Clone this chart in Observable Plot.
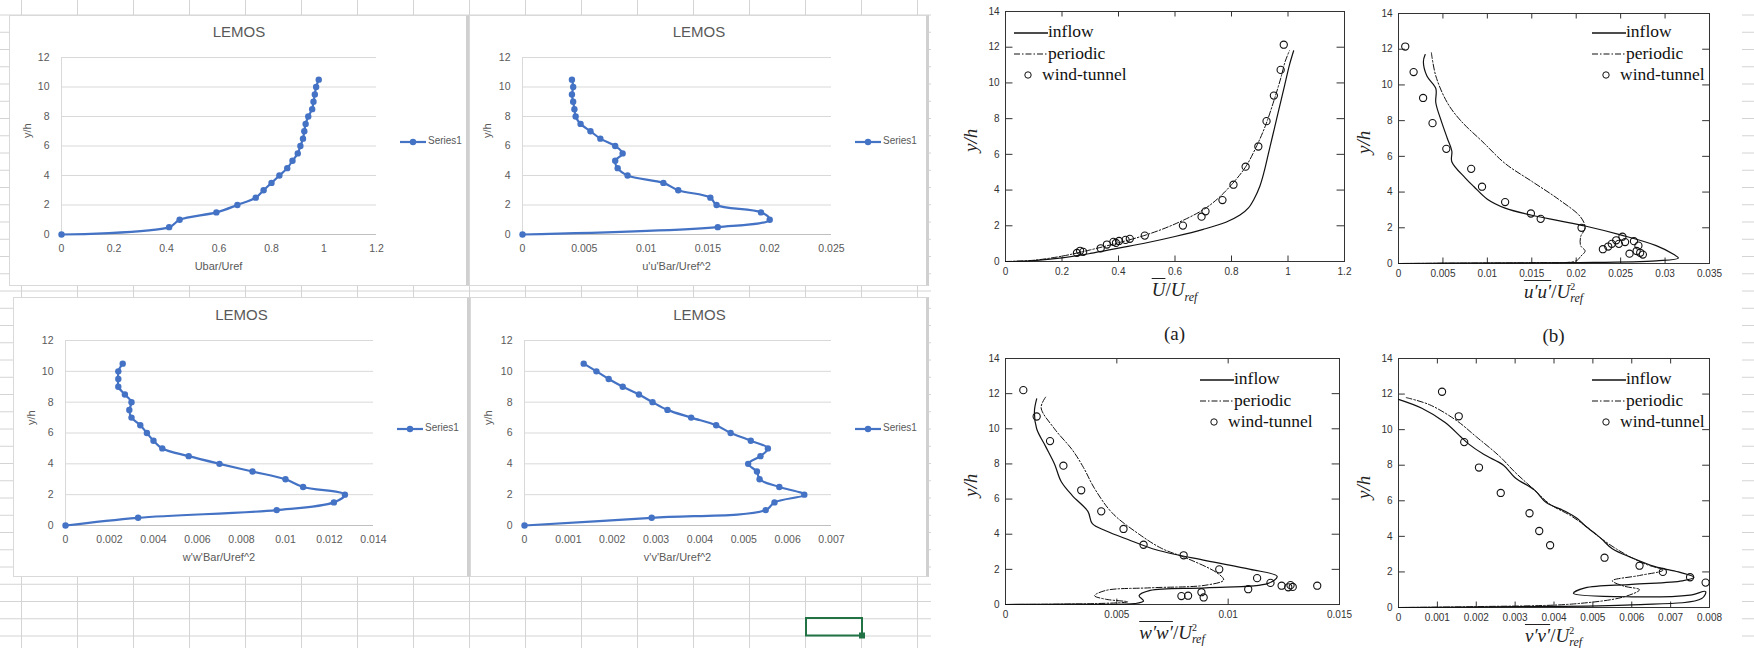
<!DOCTYPE html>
<html><head><meta charset="utf-8">
<script src="https://cdn.jsdelivr.net/npm/d3@7"></script>
<script src="https://cdn.jsdelivr.net/npm/@observablehq/plot@0.6"></script>
<style>
body{margin:0;width:1754px;height:648px;overflow:hidden;background:#fff;position:relative;font-family:"Liberation Sans",Arial,sans-serif}
.abs{position:absolute}
.box{position:absolute;background:#fff;border:1px solid #d9d9d9;box-sizing:border-box}
.xt{position:absolute;color:#595959;font-size:11px;white-space:nowrap;transform:translateX(-50%)}
.ttl{position:absolute;color:#595959;font-size:15px;transform:translateX(-50%)}
.ser{position:absolute;color:#595959;font-size:10px;font-family:"Liberation Sans Narrow","Liberation Sans",sans-serif}
.m{position:absolute;font-family:"Liberation Serif","DejaVu Serif",serif;font-size:19px;color:#222;white-space:nowrap;transform:translateX(-50%)}
.yl{position:absolute;font-family:"Liberation Serif","DejaVu Serif",serif;font-size:19px;color:#222;white-space:nowrap;transform:rotate(-90deg);transform-origin:left top;font-style:italic}
.lg{position:absolute;font-family:"Liberation Serif","DejaVu Serif",serif;font-size:17.5px;color:#111;line-height:21.5px;white-space:nowrap}
</style></head><body>
<div id="root"></div>
<script>
// ---- Excel (LEMOS) data ----
var lemosY = [0,0.5,1,1.5,2,2.5,3,3.5,4,4.5,5,5.5,6,6.5,7,7.5,8,8.5,9,9.5,10,10.5]
var lemosU = [0,0.41,0.45,0.59,0.67,0.74,0.77,0.8,0.83,0.86,0.88,0.9,0.91,0.92,0.925,0.93,0.94,0.955,0.96,0.965,0.97,0.98]
var lemosUU = [0,0.0158,0.020,0.0193,0.0157,0.0152,0.0126,0.0114,0.0085,0.0077,0.0075,0.0081,0.0075,0.0063,0.0055,0.0047,0.0043,0.0042,0.0041,0.0040,0.0041,0.0040]
var lemosWW = [0,0.0033,0.0096,0.0122,0.0127,0.0108,0.0100,0.0085,0.0070,0.0056,0.0044,0.0040,0.0037,0.0034,0.0030,0.0029,0.0030,0.0027,0.0024,0.0024,0.0024,0.0026]
var lemosVV = [0,0.0029,0.0055,0.0057,0.00638,0.00581,0.00536,0.0053,0.0051,0.00538,0.00555,0.00516,0.0047,0.00437,0.0038,0.00326,0.00292,0.00261,0.00224,0.00192,0.00164,0.00135]

// ---- paper figure data: [x, y/h] ----
var aInflow = [[0,0],[0.1,0.05],[0.2,0.2],[0.3,0.45],[0.4,0.75],[0.5,1.05],[0.6,1.4],[0.7,1.8],[0.78,2.2],[0.83,2.6],[0.86,3.0],[0.88,3.5],[0.9,4.2],[0.915,5],[0.93,6],[0.945,7],[0.96,8],[0.975,9],[0.99,10],[1.005,11],[1.02,11.8]]
var aPeriodic = [[0,0],[0.1,0.07],[0.2,0.3],[0.3,0.65],[0.4,1.05],[0.5,1.5],[0.6,2.1],[0.7,2.9],[0.75,3.5],[0.8,4.3],[0.85,5.3],[0.89,6.5],[0.92,7.6],[0.95,9],[0.975,10.3],[0.99,11.2],[1.005,11.8]]
var aTunnel = [[0.985,12.14],[0.974,10.73],[0.95,9.29],[0.924,7.86],[0.895,6.44],[0.85,5.31],[0.807,4.3],[0.768,3.44],[0.708,2.81],[0.694,2.51],[0.628,2.01],[0.493,1.45],[0.44,1.27],[0.425,1.21],[0.402,1.15],[0.391,1.04],[0.382,1.1],[0.359,0.95],[0.337,0.74],[0.275,0.54],[0.264,0.6],[0.253,0.48]]

var bInflow = [[0.0030,11.7],[0.0028,11.3],[0.0032,10.5],[0.0042,9.8],[0.0042,9.0],[0.0048,8.0],[0.0055,7],[0.006,6.3],[0.006,5.7],[0.0075,4.8],[0.0085,4.3],[0.01,3.6],[0.012,3.1],[0.015,2.7],[0.018,2.4],[0.021,2.1],[0.025,1.6],[0.029,1.0],[0.031,0.5],[0.0315,0.3],[0.029,0.15],[0.02,0.05],[0.005,0.02],[0,0]]
var bPeriodic = [[0.0037,11.8],[0.0042,10.5],[0.0055,9],[0.007,8],[0.0095,6.8],[0.012,5.6],[0.015,4.6],[0.018,3.6],[0.0205,2.6],[0.021,2.0],[0.0205,1.5],[0.0205,1.0],[0.021,0.7],[0.0205,0.4],[0.02,0.15],[0.015,0.05],[0.008,0.02],[0,0]]
var bTunnel = [[0.00076,12.15],[0.0017,10.72],[0.00277,9.27],[0.00383,7.86],[0.00538,6.42],[0.00818,5.3],[0.0094,4.3],[0.012,3.44],[0.0149,2.8],[0.016,2.5],[0.0206,2.0],[0.0252,1.5],[0.0245,1.3],[0.024,1.1],[0.0236,0.95],[0.023,0.8],[0.0248,1.1],[0.0255,1.2],[0.0265,1.25],[0.027,1.0],[0.0272,0.6],[0.0275,0.5],[0.026,0.55],[0.0268,0.7]]

var cInflow = [[0.0014,11.7],[0.0013,11],[0.0014,10],[0.0018,9],[0.0022,8],[0.0025,7],[0.003,6.2],[0.0037,5.3],[0.0039,4.6],[0.0045,4.2],[0.0055,3.7],[0.0068,3.1],[0.009,2.5],[0.011,2.0],[0.0122,1.6],[0.0118,1.2],[0.009,0.95],[0.0065,0.8],[0.006,0.5],[0.0062,0.2],[0.0058,0.05],[0.003,0.02],[0,0]]
var cPeriodic = [[0.0018,11.8],[0.0016,11.2],[0.0022,10],[0.003,8.8],[0.0035,7.8],[0.004,6.6],[0.0048,5.2],[0.006,4],[0.007,3.2],[0.0082,2.6],[0.0095,1.8],[0.0098,1.4],[0.009,1.1],[0.0065,0.95],[0.0045,0.8],[0.004,0.5],[0.0045,0.3],[0.0055,0.15],[0.004,0.05],[0,0]]
var cTunnel = [[0.0008,12.2],[0.0014,10.7],[0.002,9.3],[0.0026,7.9],[0.0034,6.5],[0.0043,5.3],[0.0053,4.3],[0.0062,3.4],[0.008,2.8],[0.0096,2.0],[0.0113,1.5],[0.0079,0.48],[0.0082,0.5],[0.0088,0.7],[0.0089,0.4],[0.0109,0.87],[0.0119,1.23],[0.0124,1.07],[0.0127,0.98],[0.0128,1.1],[0.0129,1.0],[0.014,1.07]]

var dInflow = [[0,11.7],[0.0006,11.2],[0.0012,10.4],[0.0016,9.6],[0.0018,9.2],[0.0022,8.6],[0.0027,8],[0.003,7.3],[0.0035,6.6],[0.0038,5.9],[0.0043,5.4],[0.0046,5.0],[0.0048,4.6],[0.0052,3.9],[0.0055,3.3],[0.006,2.8],[0.0066,2.3],[0.0072,2.0],[0.0076,1.7],[0.0073,1.5],[0.006,1.3],[0.0048,1.1],[0.0045,0.8],[0.006,0.6],[0.0075,0.7],[0.0079,0.9],[0.0078,0.5],[0.006,0.15],[0.003,0.05],[0,0]]
var dPeriodic = [[0.0002,11.8],[0.0008,11.4],[0.0015,10.5],[0.002,9.6],[0.0026,8.5],[0.003,7.6],[0.0035,6.6],[0.0039,5.8],[0.0044,5.2],[0.0048,4.6],[0.0052,3.9],[0.0056,3.3],[0.006,2.8],[0.0064,2.4],[0.0068,2.1],[0.0062,1.8],[0.0055,1.5],[0.0058,1.2],[0.0062,1.0],[0.0058,0.6],[0.0045,0.2],[0.002,0.05],[0,0]]
var dTunnel = [[0.00112,12.13],[0.00155,10.75],[0.00169,9.3],[0.00207,7.87],[0.00263,6.44],[0.00337,5.3],[0.00362,4.3],[0.0039,3.5],[0.0053,2.8],[0.0062,2.35],[0.0068,2.0],[0.0075,1.7],[0.0079,1.4]]

var root = document.getElementById("root")
function add(html) { root.insertAdjacentHTML("beforeend", html) }
function place(el, left, top) {
    el.style.position = "absolute"; el.style.left = left + "px"; el.style.top = top + "px"
    root.append(el)
}

// spreadsheet grid behind everything
var grid = Plot.plot({
    width: 1754, height: 648, margin: 0,
    x: {domain: [0, 1754], axis: null}, y: {domain: [0, 648], axis: null, reverse: true},
    marks: [
        Plot.ruleX(d3.range(21, 1754, 56), {stroke: "#d4d4d4"}),
        Plot.ruleY(d3.range(14.5, 648, 17.25), {stroke: "#d4d4d4"}),
        Plot.rect([[931, 1742]], {x1: d => d[0], x2: d => d[1], y1: 0, y2: 648, fill: "white"}),
        Plot.rect([[806, 862]], {x1: d => d[0], x2: d => d[1], y1: 618, y2: 635.5, stroke: "#217346", strokeWidth: 2, fill: "none"}),
        Plot.rect([[859, 865]], {x1: d => d[0], x2: d => d[1], y1: 632.5, y2: 638.5, fill: "#217346"})
    ]
})
place(grid, 0, 0)

function excel(c) {
    add(`<div class="box" style="left:${c.bx}px;top:${c.by}px;width:${c.bw}px;height:${c.bh}px;border-right:3px solid #d0d0d0"></div>`)
    let data = lemosY.map((y, i) => ({x: c.xs[i], y}))
    let plot = Plot.plot({
        width: c.bw, height: c.bh,
        marginLeft: c.fx0 - c.bx, marginRight: c.bx + c.bw - c.fx1,
        marginTop: c.fy1 - c.by, marginBottom: c.by + c.bh - c.fy0,
        style: {fontFamily: "Liberation Sans, Arial, sans-serif", fontSize: "10.5px", color: "#595959", background: "none"},
        x: {domain: [0, c.xmax]},
        y: {domain: [0, 12]},
        marks: [
            Plot.ruleY(d3.range(2, 13, 2), {stroke: "#d9d9d9"}),
            Plot.ruleY([0], {stroke: "#bfbfbf"}),
            Plot.ruleX([0], {stroke: "#d9d9d9"}),
            Plot.axisY({ticks: d3.range(0, 13, 2), tickSize: 0, tickPadding: 12, label: null}),
            Plot.axisX({ticks: c.ticks, tickSize: 0, tickPadding: 10, label: null, tickFormat: d => +d.toFixed(4) + ""}),
            Plot.line(data, {x: "x", y: "y", stroke: "#4472C4", strokeWidth: 2.2, curve: "catmull-rom"}),
            Plot.dot(data, {x: "x", y: "y", r: 3.2, fill: "#4472C4"})
        ]
    })
    place(plot, c.bx, c.by)
    let cx = (c.fx0 + c.fx1) / 2
    add(`<div class="ttl" style="left:${c.bx + c.bw / 2}px;top:${c.fy1 - 34}px">LEMOS</div>`)
    add(`<div class="xt" style="left:${cx}px;top:${c.fy0 + 26}px">${c.xlabel}</div>`)
    add(`<div class="xt" style="left:${c.bx + 12}px;top:${(c.fy0 + c.fy1) / 2 - 8}px;transform:rotate(-90deg);transform-origin:left top;font-size:11px">y/h</div>`)
    let ly = (c.fy0 + c.fy1) / 2 - 4
    add(`<svg class="abs" style="left:${c.fx1 + 24}px;top:${ly - 5}px" width="26" height="10"><line x1="0" y1="5" x2="26" y2="5" stroke="#4472C4" stroke-width="2.2"/><circle cx="13" cy="5" r="3.2" fill="#4472C4"/></svg>`)
    add(`<div class="ser" style="left:${c.fx1 + 52}px;top:${ly - 7}px">Series1</div>`)
}

excel({bx: 9, by: 15, bw: 460, bh: 271, fx0: 61, fx1: 376, fy0: 234, fy1: 57, xmax: 1.2, ticks: d3.range(0, 1.21, 0.2), xs: lemosU, xlabel: "Ubar/Uref"})
excel({bx: 469, by: 15, bw: 460, bh: 271, fx0: 522, fx1: 831, fy0: 234, fy1: 57, xmax: 0.025, ticks: d3.range(0, 0.0251, 0.005), xs: lemosUU, xlabel: "u'u'Bar/Uref^2"})
excel({bx: 13, by: 297, bw: 457, bh: 280, fx0: 65, fx1: 373, fy0: 525, fy1: 340, xmax: 0.014, ticks: d3.range(0, 0.01401, 0.002), xs: lemosWW, xlabel: "w'w'Bar/Uref^2"})
excel({bx: 470, by: 297, bw: 459, bh: 280, fx0: 524, fx1: 831, fy0: 525, fy1: 340, xmax: 0.007, ticks: d3.range(0, 0.00701, 0.001), xs: lemosVV, xlabel: "v'v'Bar/Uref^2"})

function paper(c) {
    let pad = 40
    let x0 = c.fx0 - pad, y0 = c.fy1 - 12
    let xs = c.ticks, ys = d3.range(0, 15, 2)
    let tk = 14 * 0.022, tx = c.xmax * 0.022
    let plot = Plot.plot({
        width: c.fx1 - c.fx0 + pad + 20, height: c.fy0 - c.fy1 + 32,
        marginLeft: pad, marginRight: 20, marginTop: 12, marginBottom: 20,
        style: {fontFamily: "Liberation Sans, Arial, sans-serif", fontSize: "10px", color: "#333", background: "none"},
        x: {domain: [0, c.xmax]},
        y: {domain: [0, 14]},
        marks: [
            Plot.frame({stroke: "#333", strokeWidth: 1}),
            Plot.axisY({ticks: ys, tickSize: 0, tickPadding: 6, label: null}),
            Plot.axisX({ticks: xs, tickSize: 0, tickPadding: 6, label: null, tickFormat: d => +d.toFixed(4) + ""}),
            Plot.ruleX(xs, {y1: 0, y2: tk, stroke: "#333"}),
            Plot.ruleX(xs, {y1: 14 - tk, y2: 14, stroke: "#333"}),
            Plot.ruleY(ys, {x1: 0, x2: tx, stroke: "#333"}),
            Plot.ruleY(ys, {x1: c.xmax - tx, x2: c.xmax, stroke: "#333"}),
            Plot.line(c.inflow, {x: d => d[0], y: d => d[1], stroke: "#111", strokeWidth: 1.2, curve: "catmull-rom"}),
            Plot.line(c.periodic, {x: d => d[0], y: d => d[1], stroke: "#111", strokeWidth: 1, strokeDasharray: "6,2,1.5,2", curve: "catmull-rom"}),
            Plot.dot(c.tunnel, {x: d => d[0], y: d => d[1], r: 3.6, stroke: "#111", strokeWidth: 1.1})
        ]
    })
    place(plot, x0, y0)
    add(`<div class="m" style="left:${(c.fx0 + c.fx1) / 2}px;top:${c.fy0 + 18}px">${c.xlabel}</div>`)
    add(`<div class="yl" style="left:${c.fx0 - 45}px;top:${(c.fy0 + c.fy1) / 2 + 16}px">y/h</div>`)
    if (c.tag) add(`<div class="m" style="left:${(c.fx0 + c.fx1) / 2}px;top:${c.fy0 + 62}px;font-size:19px">${c.tag}</div>`)
    let L = c.lx, T = c.ly
    add(`<svg class="abs" style="left:${L}px;top:${T}px" width="36" height="66">
        <line x1="0" y1="12" x2="34" y2="12" stroke="#111" stroke-width="1.3"/>
        <line x1="0" y1="33" x2="34" y2="33" stroke="#111" stroke-dasharray="6,2,1.5,2"/>
        <circle cx="14" cy="54" r="3.2" fill="none" stroke="#111"/></svg>`)
    add(`<div class="lg" style="left:${L + 34}px;top:${T}px">inflow<br>periodic</div>`)
    add(`<div class="lg" style="left:${L + 28}px;top:${T + 43}px">wind-tunnel</div>`)
}

var ovl = (t) => `<span style="text-decoration:overline">${t}</span>`
var uref = `<i>U</i><sub style="font-size:12px"><i>ref</i></sub>`
var uref2 = `<i>U</i><span style="display:inline-block;vertical-align:-4px;line-height:1;font-size:12px;text-align:left"><sup style="display:block;line-height:10px">2</sup><i>ref</i></span>`

paper({fx0: 1005, fx1: 1344, fy0: 261, fy1: 11, xmax: 1.2, ticks: d3.range(0, 1.21, 0.2), inflow: aInflow, periodic: aPeriodic, tunnel: aTunnel,
    xlabel: `${ovl("<i>U</i>")}/${uref}`, tag: "(a)", lx: 1014, ly: 21})
paper({fx0: 1398, fx1: 1709, fy0: 263, fy1: 13, xmax: 0.035, ticks: d3.range(0, 0.0351, 0.005), inflow: bInflow, periodic: bPeriodic, tunnel: bTunnel,
    xlabel: `${ovl("<i>u′u′</i>")}/${uref2}`, tag: "(b)", lx: 1592, ly: 21})
paper({fx0: 1005, fx1: 1339, fy0: 604, fy1: 358, xmax: 0.015, ticks: [0, 0.005, 0.01, 0.015], inflow: cInflow, periodic: cPeriodic, tunnel: cTunnel,
    xlabel: `${ovl("<i>w′w′</i>")}/${uref2}`, lx: 1200, ly: 368})
paper({fx0: 1398, fx1: 1709, fy0: 607, fy1: 358, xmax: 0.008, ticks: d3.range(0, 0.00801, 0.001), inflow: dInflow, periodic: dPeriodic, tunnel: dTunnel,
    xlabel: `${ovl("<i>v′v′</i>")}/${uref2}`, lx: 1592, ly: 368})
</script>
</body></html>
